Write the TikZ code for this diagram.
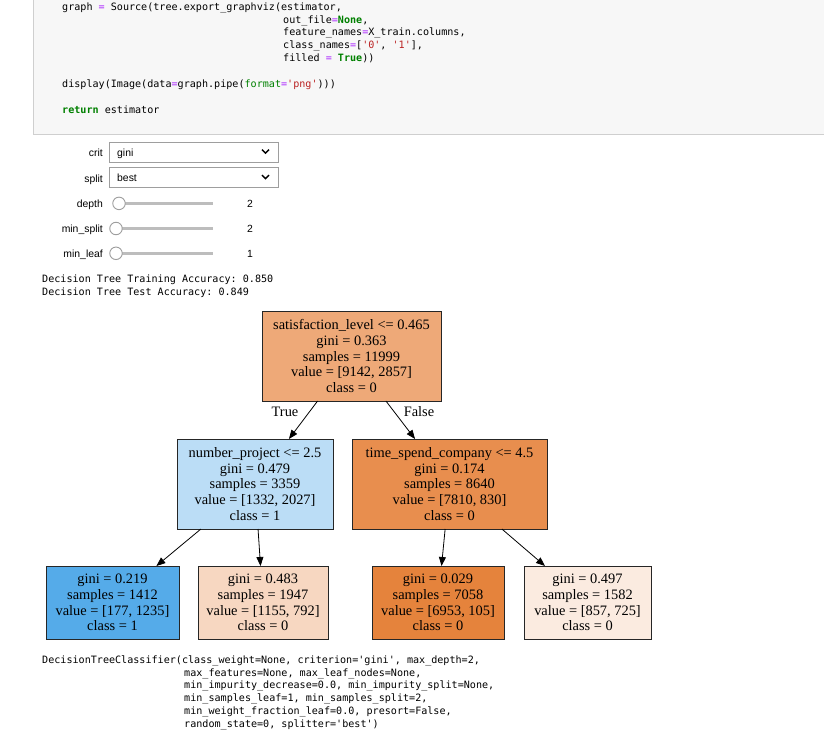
\documentclass[tikz,border=0pt]{standalone}
\usepackage{fontspec}
\setmainfont{Liberation Serif}
\setsansfont{Liberation Sans}
\setmonofont{DejaVu Sans Mono}
\usetikzlibrary{arrows.meta}

\definecolor{cellbg}{HTML}{F7F7F7}
\definecolor{cellborder}{HTML}{CFCFCF}
\definecolor{opcol}{HTML}{AA22FF}
\definecolor{kwcol}{HTML}{008000}
\definecolor{strcol}{HTML}{BA2121}
\definecolor{widgetborder}{HTML}{9E9E9E}
\definecolor{trackcol}{HTML}{BDBDBD}
\definecolor{rootfill}{HTML}{EEA978}
\definecolor{leftfill}{HTML}{BBDDF6}
\definecolor{rightfill}{HTML}{E88E4E}
\definecolor{leafa}{HTML}{55ABE9}
\definecolor{leafb}{HTML}{F7D7C1}
\definecolor{leafc}{HTML}{E5833C}
\definecolor{leafd}{HTML}{FBEBE0}

\newcommand{\opC}[1]{\textcolor{opcol}{#1}}
\newcommand{\kwC}[1]{\textcolor{kwcol}{\bfseries #1}}
\newcommand{\biC}[1]{\textcolor{kwcol}{#1}}
\newcommand{\stC}[1]{\textcolor{strcol}{#1}}

\begin{document}
\begin{tikzpicture}[x=1pt,y=-1pt,
  code/.style={anchor=base west, inner sep=0pt, font=\ttfamily\fontsize{10.1}{12}\selectfont},
  ui/.style={inner sep=0pt, font=\sffamily\fontsize{10.4}{12}\selectfont},
  dropbox/.style={draw=widgetborder, fill=white, line width=0.8pt, minimum width=169pt, minimum height=20pt, inner sep=0pt},
  knob/.style={circle, draw=widgetborder, fill=white, line width=0.9pt, minimum size=12.5pt, inner sep=0pt},
  track/.style={line width=3.4pt, trackcol},
  tnode/.style={draw=black!85, line width=0.9pt, rectangle, inner sep=0pt, outer sep=0pt,
    align=center, font=\fontsize{14.4}{15.7}\selectfont},
  tedge/.style={draw, line width=0.8pt, -{Triangle[length=9pt,width=7pt]}},
  elabel/.style={inner sep=0pt, font=\fontsize{14.4}{16}\selectfont}
]
\useasboundingbox (0,0) rectangle (824,744);
\fill[white] (0,0) rectangle (824,744);

% code cell
\draw[draw=cellborder, fill=cellbg, line width=1pt] (33,-5) rectangle (830,134);
\node[code] (c1) at (62,10.3) {graph \opC{=} Source(tree.export\_graphviz(estimator,};
\node[code] (c2) at (283,23.1) {out\_file\opC{=}\kwC{None},};
\node[code] (c3) at (283,35.9) {feature\_names\opC{=}X\_train.columns,};
\node[code] (c4) at (283,48.7) {class\_names\opC{=}[\stC{'0'}, \stC{'1'}],};
\node[code] (c5) at (283,61.5) {filled \opC{=} \kwC{True}))};
\node[code] (c6) at (62,87.1) {display(Image(data\opC{=}graph.pipe(\biC{format}\opC{=}\stC{'png'})))};
\node[code] (c7) at (62,113.3) {\kwC{return} estimator};

% interactive controls
\node[ui, anchor=base east] (lcrit) at (103,156.4) {crit};
\node[dropbox] (bcrit) at (193.5,152) {};
\node[ui, anchor=base west] (vcrit) at (117,156.2) {gini};
\draw[line width=1.5pt] (262,149.6) -- (265.5,153.1) -- (269,149.6);

\node[ui, anchor=base east] (lsplit) at (103,182.4) {split};
\node[dropbox] (bsplit) at (193.5,177.5) {};
\node[ui, anchor=base west] (vsplit) at (117,181.7) {best};
\draw[line width=1.5pt] (262,175.1) -- (265.5,178.6) -- (269,175.1);

\node[ui, anchor=base east] (ldepth) at (103,207) {depth};
\draw[track] (119,203.4) -- (213,203.4);
\node[knob] (kdepth) at (119,203.4) {};
\node[ui, anchor=base] (vdepth) at (250,207) {2};

\node[ui, anchor=base east] (lmsplit) at (103,232) {min\_split};
\draw[track] (116,228.5) -- (213,228.5);
\node[knob] (kmsplit) at (116,228.5) {};
\node[ui, anchor=base] (vmsplit) at (250,232) {2};

\node[ui, anchor=base east] (lmleaf) at (103,257) {min\_leaf};
\draw[track] (116,253.3) -- (213,253.3);
\node[knob] (kmleaf) at (116,253.3) {};
\node[ui, anchor=base] (vmleaf) at (250,257) {1};

% printed accuracy
\node[code] (acc1) at (42,282.6) {Decision Tree Training Accuracy: 0.850};
\node[code] (acc2) at (42,295.2) {Decision Tree Test Accuracy: 0.849};

% decision tree
\node[tnode, fill=rootfill, minimum width=179pt, minimum height=90pt] (root) at (351.5,356)
  {satisfaction\_level <= 0.465\\gini = 0.363\\samples = 11999\\value = [9142, 2857]\\class = 0};
\node[tnode, fill=leftfill, minimum width=156pt, minimum height=90pt] (nl) at (255,484)
  {number\_project <= 2.5\\gini = 0.479\\samples = 3359\\value = [1332, 2027]\\class = 1};
\node[tnode, fill=rightfill, minimum width=195pt, minimum height=90pt] (nr) at (449.5,484)
  {time\_spend\_company <= 4.5\\gini = 0.174\\samples = 8640\\value = [7810, 830]\\class = 0};
\node[tnode, fill=leafa, minimum width=133pt, minimum height=73pt] (la) at (112.5,602.5)
  {gini = 0.219\\samples = 1412\\value = [177, 1235]\\class = 1};
\node[tnode, fill=leafb, minimum width=130pt, minimum height=73pt] (lb) at (263,602.5)
  {gini = 0.483\\samples = 1947\\value = [1155, 792]\\class = 0};
\node[tnode, fill=leafc, minimum width=132pt, minimum height=73pt] (lc) at (438,602.5)
  {gini = 0.029\\samples = 7058\\value = [6953, 105]\\class = 0};
\node[tnode, fill=leafd, minimum width=127pt, minimum height=73pt] (ld) at (587.5,602.5)
  {gini = 0.497\\samples = 1582\\value = [857, 725]\\class = 0};

\draw[tedge] (root) -- (nl);
\draw[tedge] (root) -- (nr);
\draw[tedge] (nl) -- (la);
\draw[tedge] (nl) -- (lb);
\draw[tedge] (nr) -- (lc);
\draw[tedge] (nr) -- (ld);
\node[elabel] (ltrue) at (285,412) {True};
\node[elabel] (lfalse) at (419,412) {False};

% returned estimator
\node[code] (r1) at (42,663.3) {DecisionTreeClassifier(class\_weight=None, criterion='gini', max\_depth=2,};
\node[code] (r2) at (184,676.1) {max\_features=None, max\_leaf\_nodes=None,};
\node[code] (r3) at (184,688.9) {min\_impurity\_decrease=0.0, min\_impurity\_split=None,};
\node[code] (r4) at (184,701.7) {min\_samples\_leaf=1, min\_samples\_split=2,};
\node[code] (r5) at (184,714.5) {min\_weight\_fraction\_leaf=0.0, presort=False,};
\node[code] (r6) at (184,727.3) {random\_state=0, splitter='best')};
\end{tikzpicture}
\end{document}
